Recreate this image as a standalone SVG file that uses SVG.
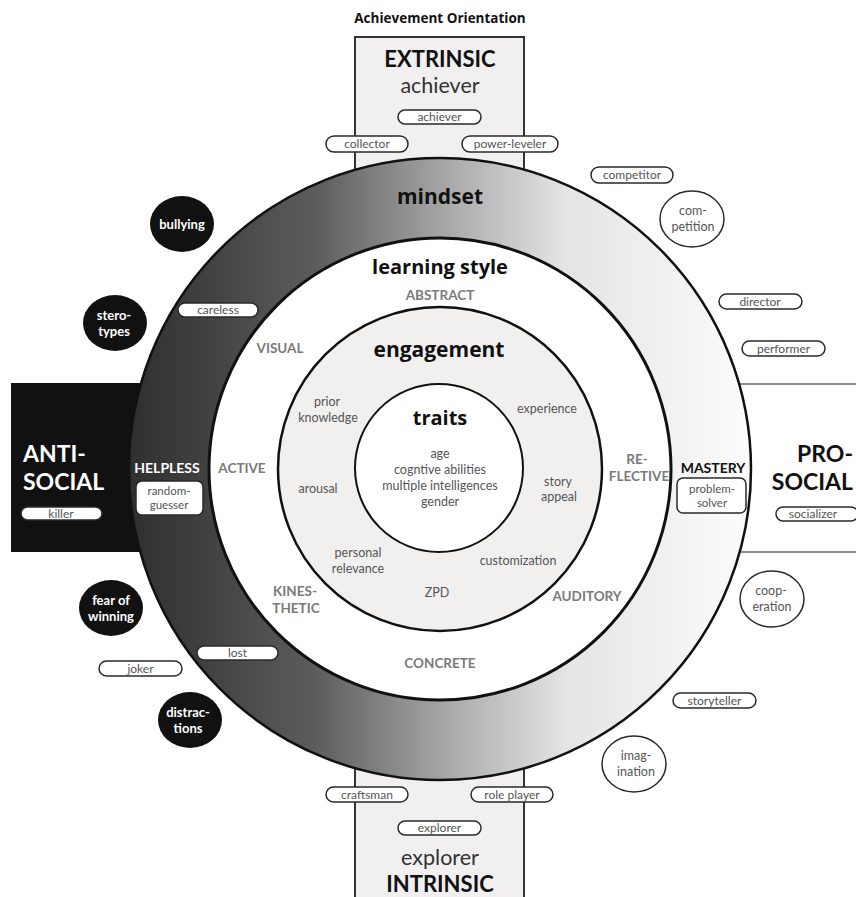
<svg xmlns="http://www.w3.org/2000/svg" width="856" height="897" viewBox="0 0 856 897">
<defs>
<linearGradient id="ring" gradientUnits="userSpaceOnUse" x1="128" y1="0" x2="752" y2="0">
<stop offset="0" stop-color="#2e2e2e"/>
<stop offset="0.3" stop-color="#5c5c5c"/>
<stop offset="0.5" stop-color="#a4a4a4"/>
<stop offset="0.7" stop-color="#e4e4e4"/>
<stop offset="1" stop-color="#fcfcfc"/>
</linearGradient>
<style>
text{font-family:Lato,"Open Sans","DejaVu Sans",sans-serif;text-anchor:middle}
.os{font-family:"Open Sans","Noto Sans","DejaVu Sans",sans-serif}
.h{font-weight:bold;fill:#111}
.big{font-size:21px}
.sub{font-size:21.5px;fill:#333}
.ls{font-weight:bold;font-size:13.5px;fill:#7a7a7a}
.sm{font-size:12.5px;fill:#555}
.pill{fill:#fff;stroke:#2a2a2a;stroke-width:1.5}
.pt{font-size:12px;fill:#555}
.dk{fill:#111}
.dt{font-size:13px;font-weight:bold;fill:#fff}
.ol{fill:#fff;stroke:#2a2a2a;stroke-width:1.5}
.side{font-size:23px;font-weight:bold}
</style>
</defs>

<text class="h os" x="440" y="23" style="font-size:13.5px">Achievement Orientation</text>

<g id="extrinsic-box">
<rect x="355" y="37" width="169" height="200" fill="#f1efef" stroke="#333" stroke-width="2"/>
<text class="h" x="440" y="67" style="font-size:22px">EXTRINSIC</text>
<text class="sub" x="440" y="93">achiever</text>
</g>
<g id="intrinsic-box">
<rect x="355" y="700" width="169" height="210" fill="#f1efef" stroke="#333" stroke-width="2"/>
<text class="sub" x="440" y="865">explorer</text>
<text class="h" x="440" y="892" style="font-size:22px">INTRINSIC</text>
</g>
<g id="antisocial-box">
<rect x="11" y="383" width="300" height="169" fill="#111"/>
</g>
<g id="prosocial-box">
<rect x="560" y="384" width="300" height="168" fill="#fff" stroke="#666" stroke-width="1.5"/>
</g>

<g id="mindset">
<circle cx="440" cy="469" r="311" fill="url(#ring)" stroke="#111" stroke-width="2.5"/>
<text class="h big os" x="440" y="204">mindset</text>
</g>
<g id="learning-style">
<circle cx="440" cy="469" r="231" fill="#fff" stroke="#111" stroke-width="3"/>
<text class="h os" x="440" y="274" style="font-size:20px">learning style</text>
</g>
<g id="engagement">
<circle cx="440" cy="469" r="162" fill="#f1f0ef" stroke="#111" stroke-width="2.5"/>
<text class="h big os" x="439" y="357">engagement</text>
</g>
<g id="traits">
<circle cx="439" cy="468" r="84" fill="#fff" stroke="#111" stroke-width="2"/>
<text class="h os" x="440" y="425" style="font-size:20px">traits</text>
<text class="sm" x="440" y="458">age</text>
<text class="sm" x="440" y="474">cogntive abilities</text>
<text class="sm" x="440" y="490">multiple intelligences</text>
<text class="sm" x="440" y="506">gender</text>
</g>

<g id="learning-style-labels">
<text class="ls" x="440" y="300">ABSTRACT</text>
<text class="ls" x="280" y="353">VISUAL</text>
<text class="ls" x="242" y="473">ACTIVE</text>
<text class="ls" x="637" y="464">RE-</text>
<text class="ls" x="639" y="481">FLECTIVE</text>
<text class="ls" x="295" y="596">KINES-</text>
<text class="ls" x="296" y="612.5">THETIC</text>
<text class="ls" x="587" y="601">AUDITORY</text>
<text class="ls" x="440" y="668">CONCRETE</text>
</g>

<g id="engagement-labels">
<text class="sm" x="327" y="406">prior</text>
<text class="sm" x="328" y="422">knowledge</text>
<text class="sm" x="547" y="413">experience</text>
<text class="sm" x="318" y="493">arousal</text>
<text class="sm" x="558" y="486">story</text>
<text class="sm" x="559" y="501">appeal</text>
<text class="sm" x="358" y="557">personal</text>
<text class="sm" x="358" y="573">relevance</text>
<text class="sm" x="518" y="565">customization</text>
<text class="sm" x="437" y="597">ZPD</text>
</g>

<g id="anti-social">
<text class="side" x="23" y="462" style="text-anchor:start;fill:#fff">ANTI-</text>
<text class="side" x="23" y="490" style="text-anchor:start;fill:#fff">SOCIAL</text>
<rect class="pill" x="21" y="507" width="81" height="13" rx="6.5"/>
<text class="pt" x="61" y="517.5">killer</text>
</g>
<g id="pro-social">
<text class="side" x="853" y="462" style="text-anchor:end;fill:#111">PRO-</text>
<text class="side" x="853" y="490" style="text-anchor:end;fill:#111">SOCIAL</text>
<rect class="pill" x="776" y="507" width="82" height="14" rx="7"/>
<text class="pt" x="813" y="518">socializer</text>
</g>
<g id="helpless">
<text class="h" x="167" y="473" style="font-size:14px;fill:#fff">HELPLESS</text>
<rect class="pill" x="136" y="481" width="67" height="34" rx="6"/>
<text class="sm" x="169" y="495" style="font-size:11.5px">random-</text>
<text class="sm" x="169" y="508.5" style="font-size:11.5px">guesser</text>
</g>
<g id="mastery">
<text class="h" x="713" y="473" style="font-size:14px">MASTERY</text>
<rect class="pill" x="677" y="478" width="69" height="35" rx="6"/>
<text class="sm" x="712" y="493" style="font-size:11.5px">problem-</text>
<text class="sm" x="712" y="506.5" style="font-size:11.5px">solver</text>
</g>

<g id="pill-achiever"><rect class="pill" x="398" y="110" width="83" height="14" rx="7"/><text class="pt" x="439.5" y="121">achiever</text></g>
<g id="pill-collector"><rect class="pill" x="326" y="136" width="82" height="16" rx="8"/><text class="pt" x="367" y="148">collector</text></g>
<g id="pill-power-leveler"><rect class="pill" x="462" y="136" width="96" height="16" rx="8"/><text class="pt" x="510" y="148">power-leveler</text></g>
<g id="pill-competitor"><rect class="pill" x="591" y="167" width="82" height="16" rx="8"/><text class="pt" x="632" y="179">competitor</text></g>
<g id="pill-director"><rect class="pill" x="719" y="294" width="83" height="15" rx="7.5"/><text class="pt" x="760" y="305.5">director</text></g>
<g id="pill-performer"><rect class="pill" x="742" y="341" width="83" height="15" rx="7.5"/><text class="pt" x="783.5" y="352.5">performer</text></g>
<g id="pill-storyteller"><rect class="pill" x="673" y="693" width="83" height="15" rx="7.5"/><text class="pt" x="714.5" y="704.5">storyteller</text></g>
<g id="pill-careless"><rect class="pill" x="178" y="303" width="80" height="14" rx="7"/><text class="pt" x="218" y="314">careless</text></g>
<g id="pill-lost"><rect class="pill" x="197" y="646" width="81" height="14" rx="7"/><text class="pt" x="237.5" y="657">lost</text></g>
<g id="pill-joker"><rect class="pill" x="99" y="661" width="83" height="15" rx="7.5"/><text class="pt" x="140.5" y="672.5">joker</text></g>
<g id="pill-craftsman"><rect class="pill" x="326" y="787" width="82" height="15" rx="7.5"/><text class="pt" x="367" y="798.5">craftsman</text></g>
<g id="pill-role-player"><rect class="pill" x="471" y="787" width="82" height="15" rx="7.5"/><text class="pt" x="512" y="798.5">role player</text></g>
<g id="pill-explorer"><rect class="pill" x="398" y="821" width="83" height="14" rx="7"/><text class="pt" x="439.5" y="832">explorer</text></g>

<g id="bullying"><ellipse class="dk" cx="182" cy="224" rx="32" ry="28"/><text class="dt" x="182" y="229">bullying</text></g>
<g id="stereotypes"><ellipse class="dk" cx="115" cy="323" rx="32" ry="28"/><text class="dt" x="114" y="320">stero-</text><text class="dt" x="114" y="336">types</text></g>
<g id="fear-of-winning"><ellipse class="dk" cx="111" cy="608" rx="32" ry="28"/><text class="dt" x="111" y="605">fear of</text><text class="dt" x="111" y="621">winning</text></g>
<g id="distractions"><ellipse class="dk" cx="190" cy="720" rx="32" ry="28"/><text class="dt" x="188" y="717">distrac-</text><text class="dt" x="188" y="733">tions</text></g>

<g id="competition"><ellipse class="ol" cx="692" cy="219" rx="32" ry="28"/><text class="sm" x="693" y="215">com-</text><text class="sm" x="693" y="231">petition</text></g>
<g id="cooperation"><ellipse class="ol" cx="772" cy="599" rx="32" ry="28"/><text class="sm" x="771" y="595">coop-</text><text class="sm" x="772" y="611">eration</text></g>
<g id="imagination"><ellipse class="ol" cx="634" cy="764" rx="32" ry="28"/><text class="sm" x="636" y="760">imag-</text><text class="sm" x="636" y="776">ination</text></g>

<g id="connectors"></g>
</svg>
